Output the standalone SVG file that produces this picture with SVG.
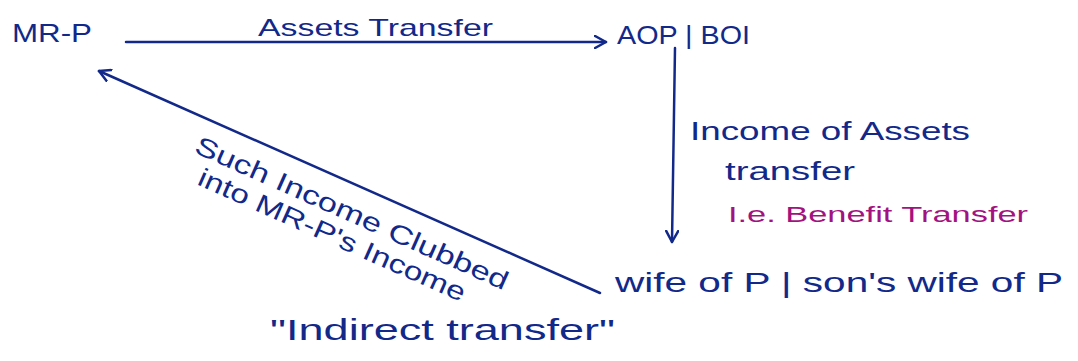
<svg xmlns="http://www.w3.org/2000/svg" width="1078" height="361" viewBox="0 0 1078 361">
<style>
.t{font-family:"Liberation Sans",Arial,sans-serif;fill:#12298a}
.m{font-family:"Liberation Sans",Arial,sans-serif;fill:#a3127f}
.c{stroke:#12298a;stroke-width:2.5;fill:none;stroke-linecap:round}
</style>
<defs>
<marker id="ah" markerWidth="14" markerHeight="14" refX="12" refY="7" orient="auto" markerUnits="userSpaceOnUse">
<path d="M1,1 L12,7 L1,13" fill="none" stroke="#12298a" stroke-width="2.5" stroke-linecap="round" stroke-linejoin="round"/>
</marker>
</defs>
<rect width="1078" height="361" fill="#ffffff"/>
<g id="connectors">
<line class="c" x1="126" y1="42" x2="606" y2="42" marker-end="url(#ah)"/>
<line class="c" x1="675" y1="48" x2="672" y2="242" marker-end="url(#ah)"/>
<line class="c" x1="600" y1="293" x2="99" y2="71" marker-end="url(#ah)"/>
</g>
<g id="node-mrp"><text class="t" x="12" y="42" font-size="26" textLength="80" lengthAdjust="spacingAndGlyphs">MR-P</text></g>
<g id="node-aop"><text class="t" x="617" y="44" font-size="26" textLength="133" lengthAdjust="spacingAndGlyphs">AOP | BOI</text></g>
<g id="node-wife"><text class="t" x="615" y="292" font-size="28" textLength="448" lengthAdjust="spacingAndGlyphs">wife of P | son's wife of P</text></g>
<g id="labels">
<text class="t" x="258" y="36" font-size="24" textLength="235" lengthAdjust="spacingAndGlyphs">Assets Transfer</text>
<text class="t" x="690" y="140" font-size="26" textLength="280" lengthAdjust="spacingAndGlyphs">Income of Assets</text>
<text class="t" x="725" y="180" font-size="26" textLength="130" lengthAdjust="spacingAndGlyphs">transfer</text>
<text class="m" x="728" y="222" font-size="22" textLength="300" lengthAdjust="spacingAndGlyphs">I.e. Benefit Transfer</text>
<text class="t" transform="translate(193,152) rotate(24)" font-size="26" textLength="340" lengthAdjust="spacingAndGlyphs">Such Income Clubbed</text>
<text class="t" transform="translate(196,184) rotate(24)" font-size="26" textLength="290" lengthAdjust="spacingAndGlyphs">into MR-P's Income</text>
<text class="t" x="270" y="340" font-size="30" textLength="345" lengthAdjust="spacingAndGlyphs">"Indirect transfer"</text>
</g>
</svg>
